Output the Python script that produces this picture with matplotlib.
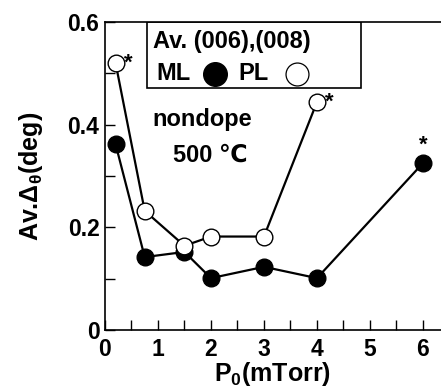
import matplotlib
matplotlib.use("Agg")
import matplotlib.pyplot as plt
from matplotlib.ticker import MultipleLocator
from matplotlib.patches import Rectangle

pl_x = [0.2, 0.75, 1.5, 2.0, 3.0, 4.0]
pl_y = [0.52, 0.232, 0.164, 0.182, 0.182, 0.444]
ml_x = [0.2, 0.75, 1.5, 2.0, 3.0, 4.0, 6.0]
ml_y = [0.362, 0.142, 0.152, 0.101, 0.123, 0.101, 0.325]
star_pts = [(0.2, 0.52, 'PL'), (4.0, 0.444, 'PL'), (6.0, 0.325, 'ML')]

plt.rcParams['font.family'] = ['Liberation Sans', 'DejaVu Sans']
plt.rcParams['font.weight'] = 'bold'
plt.rcParams['mathtext.fontset'] = 'custom'
plt.rcParams['mathtext.rm'] = 'Liberation Sans:bold'
plt.rcParams['mathtext.bf'] = 'Liberation Sans:bold'
plt.rcParams['mathtext.it'] = 'Liberation Sans:bold'
plt.rcParams['mathtext.default'] = 'bf'

fig = plt.figure(figsize=(4.41, 3.91), dpi=100)
ax = fig.add_axes([0.238, 0.156, 0.762, 0.788])

ax.plot(ml_x, ml_y, '-', color='black', lw=1.6, marker='o', ms=12,
        mfc='black', mec='black', zorder=3)
ax.plot(pl_x, pl_y, '-', color='black', lw=1.6, marker='o', ms=12,
        mfc='white', mec='black', mew=1.0, zorder=4)

for x, y, s in star_pts:
    if s == 'PL':
        ax.annotate('*', (x, y), xytext=(6, 0), textcoords='offset points',
                    fontsize=16, fontweight='bold', ha='left', va='center')
    else:
        ax.annotate('*', (x, y), xytext=(0, 5), textcoords='offset points',
                    fontsize=16, fontweight='bold', ha='center', va='bottom')

ax.set_xlim(0, 6.34)
ax.set_ylim(0, 0.6)
ax.xaxis.set_minor_locator(MultipleLocator(0.5))
ax.yaxis.set_minor_locator(MultipleLocator(0.1))
ax.tick_params(which='both', direction='in', top=False, right=False,
               labelsize=16.5, width=1.0, length=7)
ax.tick_params(axis='x', which='major', pad=6)
ax.tick_params(axis='y', which='major', pad=4)
ax.set_xticks([0, 1, 2, 3, 4, 5, 6])
ax.set_xticklabels(['0', '1', '2', '3', '4', '5', '6'], fontweight='bold')
ax.set_yticks([0, 0.2, 0.4, 0.6])
ax.set_yticklabels(['0', '0.2', '0.4', '0.6'], fontweight='bold')
ax.spines['right'].set_visible(False)
for sp in ['left', 'bottom', 'top']:
    ax.spines[sp].set_linewidth(1.2)

ax.set_xlabel('P$_0$(mTorr)', fontsize=18, fontweight='bold', labelpad=-1)
ax.set_ylabel('Av.$\\Delta_\\theta$(deg)', fontsize=18, fontweight='bold', labelpad=16)

# legend box
lx0, lx1 = (147 - 105) / 336, (361 - 105) / 336
ly0 = (330 - 88) / 308
ax.add_patch(Rectangle((lx0, ly0), lx1 - lx0, 1 - ly0, transform=ax.transAxes,
                       fill=False, ec='black', lw=1.2, zorder=5))
ax.text((153 - 105) / 336, 0.935, 'Av. (006),(008)', transform=ax.transAxes,
        fontsize=17, fontweight='bold', va='center', ha='left')
ax.text((156 - 105) / 336, 0.831, 'ML', transform=ax.transAxes,
        fontsize=17, fontweight='bold', va='center', ha='left')
ax.plot([(215 - 105) / 336], [0.831], 'o', ms=17, mfc='black', mec='black',
        transform=ax.transAxes, clip_on=False)
ax.text((238 - 105) / 336, 0.831, 'PL', transform=ax.transAxes,
        fontsize=17, fontweight='bold', va='center', ha='left')
ax.plot([(297 - 105) / 336], [0.831], 'o', ms=16.5, mfc='white', mec='black', mew=0.9,
        transform=ax.transAxes, clip_on=False)

ax.text(0.9, 0.409, 'nondope', fontsize=17, fontweight='bold', ha='left', va='center')
ax.text(1.28, 0.341, '500 ℃', fontsize=17, fontweight='bold', ha='left', va='center',
        family=['Liberation Sans', 'DejaVu Sans'])

fig.savefig('out.png', dpi=100)
